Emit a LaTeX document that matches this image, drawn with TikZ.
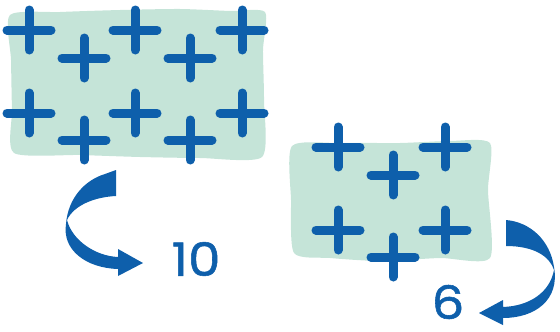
\documentclass[tikz,border=0pt]{standalone}
\usepackage{fontspec}
\setmainfont{Poppins}
\newfontfamily\lblfont[FakeBold=1.2, FakeStretch=1.12]{Poppins}
\definecolor{pblue}{HTML}{0E5FAB}
\definecolor{pgreen}{HTML}{C5E4D8}
\tikzset{
  plusline/.style={draw=pblue, line width=9, line cap=round},
  plus/.pic={\draw[plusline] (-22,0) -- (22,0) (0,-20) -- (0,20);},
  sheet/.style={fill=pgreen, draw=none},
  turn/.style={fill=pblue, draw=none},
  lbl/.style={text=pblue, inner sep=0pt}
}
\begin{document}
\begin{tikzpicture}[x=1pt,y=-1pt]
\useasboundingbox (0,0) rectangle (560,332);
% left sheet
\fill[sheet] plot[smooth cycle, tension=0.4] coordinates {
  (10,15) (60,12) (120,10) (180,9) (230,11) (265,12)
  (263,50) (264,100) (262,157)
  (200,158) (140,157) (80,155) (14,153)
  (12,110) (11,60)};
% right sheet
\fill[sheet] plot[smooth cycle, tension=0.4] coordinates {
  (292,146) (340,143) (400,143) (450,141) (490,143)
  (488,190) (490,258)
  (440,258) (380,261) (330,258) (294,253)
  (291,200)};
% pluses left
\foreach \px/\py in {29/30,135/30,242/30,84/58,190/58,29/113,135/113,242/113,84/140,190/140}
  \pic at (\px,\py) {plus};
% pluses right
\foreach \px/\py in {338/147,445/147,393/175,338/230,445/230,393/257}
  \pic at (\px,\py) {plus};
% left turning arrow
\fill[turn] (105,174) -- (116,170) -- (116,196)
  .. controls (95,197) and (74,205) .. (67,220)
  .. controls (72,240) and (95,256) .. (118,257)
  -- (118,249) -- (143,263) -- (118,276) -- (118,269)
  .. controls (86,268) and (62,250) .. (66,224)
  .. controls (68,198) and (85,180) .. (105,174) -- cycle;
% right turning arrow
\fill[turn] (506,220)
  .. controls (530,222) and (550,240) .. (554,267)
  .. controls (560,300) and (535,318) .. (503,318)
  -- (503,325) -- (479,313) -- (503,300) -- (503,307)
  .. controls (530,306) and (550,292) .. (554,270)
  .. controls (550,257) and (535,246) .. (506,246) -- cycle;
% labels
\node[lbl, font=\lblfont\fontsize{46}{46}\selectfont] (ten) at (196,259) {10};
\node[lbl, font=\lblfont\fontsize{46}{46}\selectfont] (six) at (448,302) {6};
\end{tikzpicture}
\end{document}
